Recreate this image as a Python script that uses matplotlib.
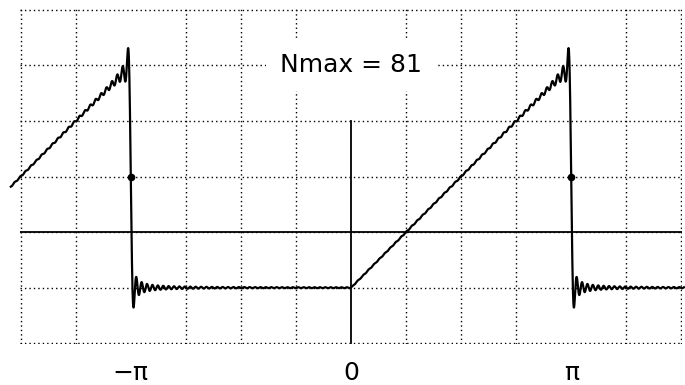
import numpy as np
import matplotlib
matplotlib.use('Agg')
import matplotlib.pyplot as plt

# partial Fourier sum of f(x) = 0 on (-pi,0), x on (0,pi)
nmax = 81
x_start = -1.545 * np.pi
x_end = 1.512 * np.pi
tick_pos = [-np.pi, 0, np.pi]
tick_labels = ['\u2212\u03c0', '0', '\u03c0']
jump_x = [-np.pi, np.pi]
jump_mid = [np.pi / 2, np.pi / 2]

x = np.linspace(x_start, x_end, 8000)
s = np.full_like(x, np.pi / 4)
for n in range(1, nmax + 1):
    an = ((-1) ** n - 1) / (np.pi * n * n)
    bn = (-1) ** (n + 1) / n
    s += an * np.cos(n * x) + bn * np.sin(n * x)

fig = plt.figure(figsize=(6.85, 3.85), dpi=100)
ax = fig.add_axes([20 / 685, 41 / 385, 662 / 685, 335 / 385])

ax.set_xlim(-1.5 * np.pi - 0.01, 1.5 * np.pi + 0.01)
ax.set_ylim(-np.pi / 4 - 0.01, 1.25 * np.pi + 0.01)

# dotted grid every pi/4
ax.set_xticks(np.arange(-6, 7) * np.pi / 4, minor=True)
ax.set_yticks(np.arange(-1, 6) * np.pi / 4, minor=True)
ax.set_yticks([])
ax.set_xticks(tick_pos)
ax.set_xticklabels(tick_labels)
ax.grid(which='minor', color='black', linestyle=(0, (1, 2.2)), linewidth=1.0)
ax.tick_params(which='both', length=0)
ax.tick_params(axis='x', pad=12, labelsize=18)
for sp in ax.spines.values():
    sp.set_visible(False)

# mean value line and vertical axis
ax.axhline(np.pi / 4, color='black', lw=1.3)
ax.plot([0, 0], [-np.pi / 4, 0.75 * np.pi], color='black', lw=1.3)

ax.plot(x, s, color='black', lw=1.6, clip_on=False)
ax.plot(jump_x, jump_mid, 'o', color='black', ms=4.5)

ax.text(0, np.pi, 'Nmax = %d' % nmax, ha='center', va='center', fontsize=18,
        bbox=dict(facecolor='white', edgecolor='none', pad=10))

plt.savefig('out.png', dpi=100)
